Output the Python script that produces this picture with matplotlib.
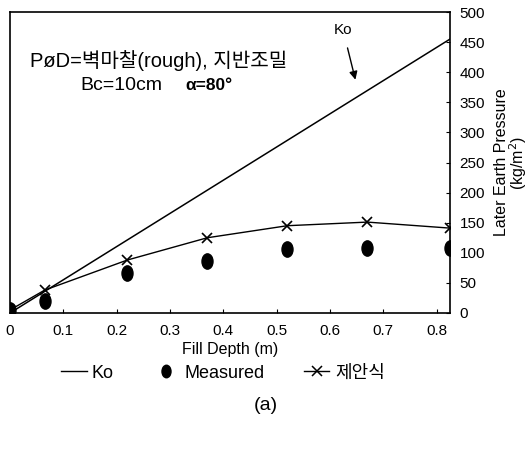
import matplotlib
matplotlib.use("Agg")
import matplotlib.pyplot as plt
from matplotlib.path import Path
from matplotlib.transforms import Affine2D
from matplotlib.lines import Line2D

plt.rcParams['font.family'] = ['Liberation Sans', 'Noto Sans CJK KR', 'DejaVu Sans']

# fill depth (m) and lateral pressures (kg/m^2)
ko_depth = [0.0, 0.825]
ko_pressure = [0, 455]
depth = [0.0, 0.065, 0.22, 0.37, 0.52, 0.67, 0.825]
measured = [5, 20, 66, 86, 106, 108, 108]
proposed = [5, 38, 88, 125, 145, 151, 141]
x_ticks = [0, 0.1, 0.2, 0.3, 0.4, 0.5, 0.6, 0.7, 0.8]
x_ticklabels = ['0', '0.1', '0.2', '0.3', '0.4', '0.5', '0.6', '0.7', '0.8']
y_ticks = [0, 50, 100, 150, 200, 250, 300, 350, 400, 450, 500]

# upright oval for the measured points
oval = Path.unit_circle().transformed(Affine2D().scale(0.72, 1.0))

fig = plt.figure(figsize=(5.31, 4.55), dpi=100)
ax = fig.add_axes([10 / 531, 1 - 313 / 455, 440 / 531, 301 / 455])

ax.plot(ko_depth, ko_pressure, color='black', lw=1.1)
ax.plot(depth, proposed, color='black', lw=1.0, marker='x', ms=7, mew=1.2)
ax.plot(depth, measured, ls='none', marker=oval, ms=11, color='black')

ax.set_xlim(0, 0.825)
ax.set_ylim(0, 500)
ax.set_xticks(x_ticks)
ax.set_xticklabels(x_ticklabels)
ax.set_yticks(y_ticks)
ax.yaxis.tick_right()
ax.yaxis.set_label_position('right')
ax.tick_params(axis='both', direction='in', length=3, width=0.8, labelsize=11)
ax.tick_params(axis='x', pad=8)
ax.tick_params(axis='y', pad=7)
for s in ax.spines.values():
    s.set_linewidth(1.2)

ax.set_ylabel('Later Earth Pressure\n(kg/m$^2$)', fontsize=11.5, labelpad=6,
              linespacing=0.9)
ax.set_xlabel('Fill Depth (m)', fontsize=11.5, labelpad=3)

ax.text(0.045, 0.84, 'PøD=벽마찰(rough), 지반조밀', transform=ax.transAxes,
        fontsize=14.5, va='center')
ax.text(0.16, 0.755, 'Bc=10cm', transform=ax.transAxes, fontsize=14, va='center')
ax.text(0.398, 0.755, 'α=80°', transform=ax.transAxes, fontsize=12.5,
        va='center', fontweight='bold')

ax.annotate('Ko', xy=(0.785, 0.775), xytext=(0.757, 0.94),
            xycoords='axes fraction', textcoords='axes fraction', fontsize=11,
            ha='center', va='center',
            arrowprops=dict(arrowstyle='-|>', color='black', lw=1.0,
                            mutation_scale=12, shrinkA=6, shrinkB=0))

handles = [
    Line2D([], [], color='black', lw=1.0),
    Line2D([], [], ls='none', marker=oval, ms=9, color='black'),
    Line2D([], [], color='black', lw=1.0, marker='x', ms=7, mew=1.1),
]
fig.legend(handles, ['Ko', 'Measured', '제안식'], loc='center',
           bbox_to_anchor=(0.42, 1 - 373 / 455), ncol=3, frameon=False,
           fontsize=13, handlelength=1.4, handletextpad=0.3, columnspacing=2.2)

fig.text(0.5, 1 - 406 / 455, '(a)', ha='center', va='center', fontsize=14)

fig.savefig('out.png', dpi=100)
